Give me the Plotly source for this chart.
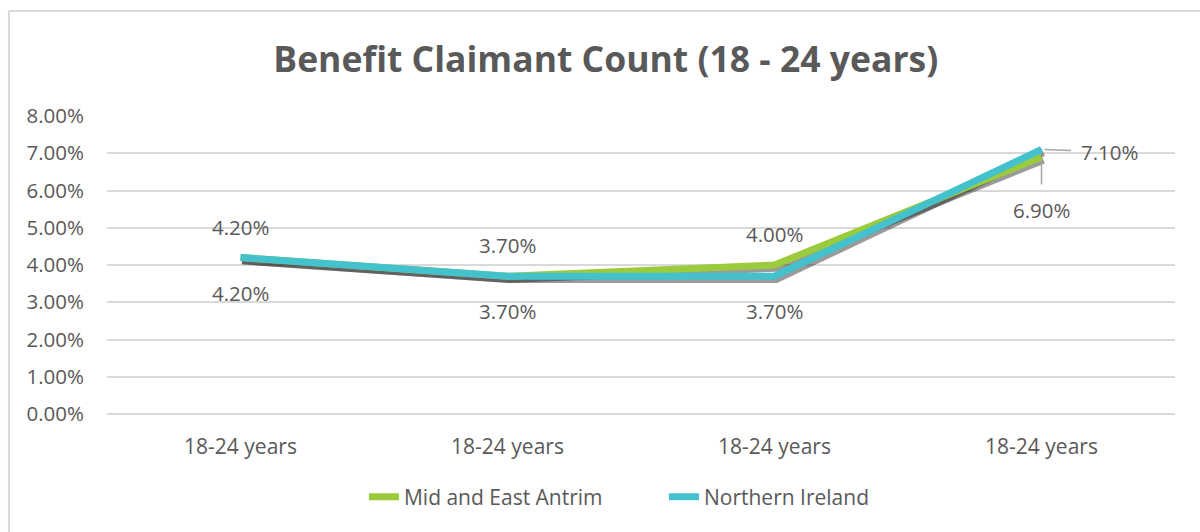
import plotly.graph_objects as go

categories = ["18-24 years", "18-24 years", "18-24 years", "18-24 years"]
mid_east_antrim = [0.042, 0.037, 0.040, 0.069]
northern_ireland = [0.042, 0.037, 0.037, 0.071]
y_ticks = [0, 0.01, 0.02, 0.03, 0.04, 0.05, 0.06, 0.07, 0.08]

GREEN = "#9BCB3C"
TEAL = "#43C1CD"
TXT = "#595959"
FONT = "Open Sans, DejaVu Sans, sans-serif"

xs = list(range(len(categories)))

fig = go.Figure()

# soft shadows under the lines
for vals in (mid_east_antrim, northern_ireland):
    fig.add_trace(go.Scatter(
        x=[x + 0.006 for x in xs], y=[v - 0.0006 for v in vals],
        mode="lines", line=dict(color="rgba(30,30,30,0.45)", width=9),
        showlegend=False, hoverinfo="skip"))

fig.add_trace(go.Scatter(x=xs, y=mid_east_antrim, mode="lines", name="Mid and East Antrim",
                         line=dict(color=GREEN, width=7)))
fig.add_trace(go.Scatter(x=xs, y=northern_ireland, mode="lines", name="Northern Ireland",
                         line=dict(color=TEAL, width=7)))

ann_font = dict(family=FONT, size=20.5, color=TXT)
last = len(xs) - 1
for i, v in enumerate(mid_east_antrim):
    if i == last:
        fig.add_annotation(x=xs[i], y=v, text=f"{v*100:.2f}%", showarrow=True, arrowhead=0,
                           arrowcolor="#A6A6A6", arrowwidth=1.5, ax=0, ay=53,
                           startstandoff=10, standoff=3, font=ann_font)
    else:
        fig.add_annotation(x=xs[i], y=v, text=f"{v*100:.2f}%", showarrow=False,
                           yshift=31, font=ann_font)
for i, v in enumerate(northern_ireland):
    if i == last:
        fig.add_annotation(x=xs[i], y=v, text=f"{v*100:.2f}%", showarrow=True, arrowhead=0,
                           arrowcolor="#A6A6A6", arrowwidth=1.5, ax=68, ay=2,
                           startstandoff=8, standoff=3, font=ann_font)
    else:
        fig.add_annotation(x=xs[i], y=v, text=f"{v*100:.2f}%", showarrow=False,
                           yshift=-35, font=ann_font)

# chart-area border (only left and top edges are visible)
border = dict(color="#D9D9D9", width=2)
fig.add_shape(type="line", xref="paper", yref="paper", x0=-0.0918, y0=-0.7, x1=-0.0918, y1=1.352,
              line=border, layer="below")
fig.add_shape(type="line", xref="paper", yref="paper", x0=-0.0918, y0=1.352, x1=1.2, y1=1.352,
              line=border, layer="below")

H = 532
fig.update_layout(
    width=1200, height=H,
    margin=dict(l=107, r=25, t=116, b=H - 116 - 298),
    paper_bgcolor="white", plot_bgcolor="white",
    title=dict(text="<b>Benefit Claimant Count (18 - 24 years)</b>", x=0.467, xanchor="center",
               xref="paper", y=1 - 60 / H, yanchor="middle",
               font=dict(family=FONT, size=35.5, color=TXT)),
    xaxis=dict(range=[-0.5, 3.5], tickmode="array", tickvals=xs, ticktext=categories,
               showgrid=False, zeroline=False, showline=False, ticks="",
               tickfont=dict(family=FONT, size=21, color=TXT), ticklabelstandoff=18),
    yaxis=dict(range=[0, 0.08], tickmode="array", tickvals=y_ticks, tickformat=".2%",
               showgrid=True, gridcolor="#D9D9D9", gridwidth=1.5, zeroline=True,
               zerolinecolor="#D9D9D9", zerolinewidth=2,
               tickfont=dict(family=FONT, size=20.5, color=TXT), ticklabelstandoff=22),
    legend=dict(orientation="h", x=0.2406, xanchor="left", y=-0.2785, yanchor="middle",
                font=dict(family=FONT, size=21, color=TXT), itemwidth=30,
                entrywidth=255, entrywidthmode="pixels", traceorder="normal"),
    showlegend=True,
)

fig.write_html(
    "out.html",
    config={"displayModeBar": False},
    post_script="document.body.style.margin='0';document.body.style.overflow='hidden';",
)
